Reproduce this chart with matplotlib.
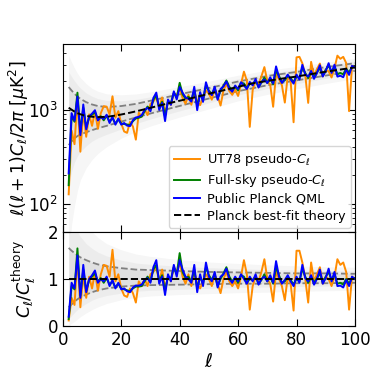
import numpy as np
import matplotlib
matplotlib.use('Agg')
import matplotlib.pyplot as plt

ell = np.arange(2, 101)

# best-fit theory D_ell [muK^2]
theory = np.array([
    1045, 995, 950, 915, 890, 870, 855, 845, 838, 833,
    831, 832, 834, 838, 845, 853, 862, 873, 885, 898,
    911, 925, 940, 956, 972, 989, 1006, 1024, 1042, 1061,
    1080, 1100, 1120, 1140, 1160, 1180, 1200, 1220, 1240, 1260,
    1280, 1300, 1320, 1342, 1366, 1392, 1418, 1444, 1470, 1496,
    1522, 1548, 1574, 1600, 1628, 1656, 1684, 1712, 1740, 1772,
    1804, 1836, 1868, 1900, 1922, 1944, 1966, 1988, 2010, 2034,
    2058, 2082, 2106, 2130, 2152, 2174, 2196, 2218, 2240, 2268,
    2296, 2324, 2352, 2380, 2408, 2436, 2464, 2492, 2520, 2548,
    2576, 2604, 2632, 2660, 2688, 2716, 2744, 2772, 2800])

# C_ell / C_ell^theory for each estimator (ell = 2..100)
ratioUT78 = np.array([
    0.12, 0.60, 0.45, 1.45, 0.40, 1.10, 0.60, 1.05, 0.80, 1.15,
    0.75, 1.10, 1.30, 1.28, 1.05, 1.62, 0.95, 1.10, 0.80, 0.65,
    0.62, 0.80, 0.70, 0.50, 0.95, 0.85, 1.00, 0.85, 1.10, 1.15,
    1.25, 0.95, 1.20, 0.80, 1.05, 0.95, 1.25, 1.15, 1.35, 1.05,
    0.90, 1.10, 0.85, 1.15, 0.90, 0.80, 0.95, 1.10, 1.00, 0.85,
    1.10, 0.90, 0.70, 1.00, 1.15, 0.95, 0.85, 0.95, 0.80, 1.05,
    1.40, 1.10, 0.35, 0.85, 1.05, 0.95, 1.15, 1.42, 1.00, 0.90,
    0.52, 1.15, 1.00, 0.85, 0.55, 1.05, 0.90, 0.33, 1.60, 1.60,
    1.35, 1.00, 0.50, 1.35, 0.95, 1.10, 1.25, 0.90, 1.05, 1.00,
    0.85, 1.05, 1.42, 1.30, 1.35, 1.15, 0.35, 1.05, 1.00])

ratioFullSky = np.array([
    0.15, 0.85, 0.78, 1.65, 0.65, 1.20, 0.75, 0.98, 1.05, 1.12,
    0.95, 1.02, 0.92, 1.02, 0.88, 0.95, 0.82, 0.90, 0.80, 0.78,
    0.76, 0.74, 0.80, 0.84, 0.84, 0.85, 0.95, 1.05, 0.95, 1.20,
    1.30, 0.95, 1.08, 0.75, 1.05, 1.00, 1.25, 1.10, 1.55, 1.15,
    1.02, 1.05, 0.95, 1.20, 0.80, 1.05, 0.90, 1.25, 1.08, 0.98,
    1.10, 0.85, 1.00, 1.12, 1.25, 1.05, 0.95, 1.02, 0.92, 1.08,
    1.05, 0.92, 1.00, 0.98, 1.05, 0.90, 0.98, 1.10, 0.95, 1.05,
    0.90, 1.25, 1.08, 0.92, 0.95, 1.05, 0.98, 0.88, 1.00, 0.95,
    1.22, 1.05, 0.92, 1.05, 0.92, 1.02, 1.12, 0.92, 1.05, 1.15,
    0.98, 1.10, 0.90, 0.92, 0.88, 1.00, 0.90, 1.02, 1.02])

ratioQML = np.array([
    0.20, 0.92, 0.80, 1.50, 0.60, 1.30, 0.72, 1.00, 1.08, 1.18,
    0.92, 1.00, 0.95, 1.05, 0.85, 0.98, 0.80, 0.92, 0.78, 0.80,
    0.74, 0.72, 0.82, 0.86, 0.86, 0.88, 0.98, 1.02, 0.92, 1.25,
    1.40, 0.90, 1.05, 0.66, 1.10, 0.95, 1.30, 1.05, 1.40, 1.20,
    1.05, 1.00, 0.92, 1.30, 0.72, 1.10, 0.85, 1.35, 1.05, 0.95,
    1.15, 0.82, 1.05, 1.10, 1.22, 1.00, 0.92, 1.05, 0.95, 1.10,
    1.00, 0.90, 1.05, 0.95, 1.10, 0.88, 1.00, 1.05, 0.95, 1.08,
    0.92, 1.38, 1.05, 0.90, 0.98, 1.08, 0.95, 0.85, 1.05, 0.92,
    1.30, 1.02, 0.95, 1.08, 0.88, 1.00, 1.20, 0.90, 1.02, 1.22,
    0.95, 1.15, 0.85, 0.86, 0.82, 0.98, 0.85, 1.05, 1.00])

# scatter of the simulations (ratio to theory) at a few multipoles
ellBand = np.array([2, 3, 4, 5, 6, 8, 10, 12, 15, 20, 25, 30, 40, 50, 60, 70, 80, 90, 100])
bandUp = np.array([1.66, 1.60, 1.55, 1.50, 1.46, 1.40, 1.35, 1.31, 1.27, 1.23, 1.20, 1.19, 1.17, 1.15, 1.14, 1.13, 1.12, 1.12, 1.11])
bandLo = np.array([0.40, 0.46, 0.52, 0.57, 0.61, 0.67, 0.72, 0.76, 0.80, 0.84, 0.86, 0.87, 0.88, 0.89, 0.90, 0.90, 0.91, 0.91, 0.92])
hazeUp = np.array([3.60, 3.20, 2.90, 2.65, 2.45, 2.20, 2.00, 1.88, 1.75, 1.62, 1.53, 1.48, 1.41, 1.36, 1.33, 1.30, 1.28, 1.26, 1.25])
hazeLo = np.array([0.02, 0.06, 0.10, 0.15, 0.20, 0.28, 0.35, 0.41, 0.48, 0.56, 0.61, 0.64, 0.67, 0.69, 0.71, 0.72, 0.74, 0.75, 0.76])
midUp = np.array([2.40, 2.25, 2.12, 2.00, 1.90, 1.75, 1.65, 1.57, 1.49, 1.40, 1.34, 1.31, 1.27, 1.24, 1.22, 1.20, 1.19, 1.18, 1.17])
midLo = np.array([0.15, 0.22, 0.29, 0.35, 0.40, 0.48, 0.55, 0.60, 0.65, 0.70, 0.74, 0.76, 0.78, 0.80, 0.82, 0.83, 0.84, 0.85, 0.86])

theoryBand = theory[ellBand - 2]

fig = plt.figure(figsize=(3.74, 3.74), dpi=100)
axTop = fig.add_axes([0.168, 0.380, 0.781, 0.503])
axBot = fig.add_axes([0.168, 0.128, 0.781, 0.252], sharex=axTop)

for ax, scale in [(axTop, theoryBand), (axBot, 1.0)]:
    ax.fill_between(ellBand, hazeLo * scale, hazeUp * scale, color='0.5', alpha=0.07, lw=0)
    ax.fill_between(ellBand, midLo * scale, midUp * scale, color='0.5', alpha=0.08, lw=0)
    ax.fill_between(ellBand, bandLo * scale, bandUp * scale, color='0.5', alpha=0.10, lw=0)
    ax.plot(ellBand, bandUp * scale, '--', color='gray', lw=1.3)
    ax.plot(ellBand, bandLo * scale, '--', color='gray', lw=1.3)

axTop.plot(ell, ratioUT78 * theory, color='darkorange', lw=1.4, label=r'UT78 pseudo-$C_\ell$')
axTop.plot(ell, ratioFullSky * theory, color='green', lw=1.4, label=r'Full-sky pseudo-$C_\ell$')
axTop.plot(ell, ratioQML * theory, color='blue', lw=1.4, label='Public Planck QML')
axTop.plot(ell, theory, 'k--', lw=1.4, label='Planck best-fit theory')

axBot.plot(ell, ratioUT78, color='darkorange', lw=1.4)
axBot.plot(ell, ratioFullSky, color='green', lw=1.4)
axBot.plot(ell, ratioQML, color='blue', lw=1.4)
axBot.plot(ell, np.ones_like(ell), 'k--', lw=1.4)

axTop.set_yscale('log')
axTop.set_ylim(50, 5000)
axTop.set_xlim(0, 100)
axTop.set_ylabel(r'$\ell(\ell+1)C_\ell/2\pi\ [\mu{\rm K}^2]$', fontsize=12.5)
axTop.yaxis.set_label_coords(-0.11, 0.5)
axTop.legend(loc='lower right', fontsize=9.3, labelspacing=0.3, handlelength=2.0,
             borderaxespad=0.3, handletextpad=0.6)
plt.setp(axTop.get_xticklabels(), visible=False)

axBot.set_ylim(0, 2)
axBot.set_yticks([0, 1, 2])
axBot.set_xticks([0, 20, 40, 60, 80, 100])
axBot.set_xlabel(r'$\ell$', fontsize=14, labelpad=2)
axBot.set_ylabel(r'$C_\ell/C_\ell^{\rm theory}$', fontsize=12.5)
axBot.yaxis.set_label_coords(-0.085, 0.5)

for ax in (axTop, axBot):
    ax.tick_params(which='both', direction='in', top=True, right=True, labelsize=12)
    ax.tick_params(which='major', length=5)
    ax.tick_params(which='minor', length=2.5)

fig.savefig('out.png', dpi=100)
